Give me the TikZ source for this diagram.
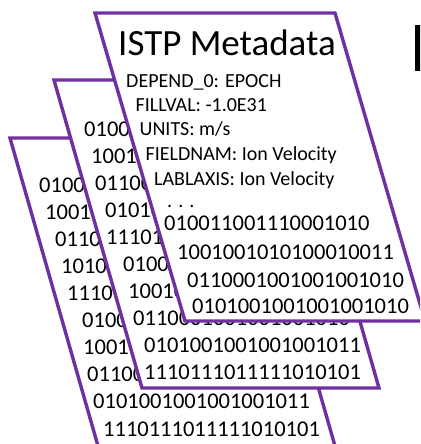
\documentclass[tikz,border=0pt]{standalone}
\usepackage{fontspec}
\setmainfont{Carlito}
\definecolor{cardpurple}{HTML}{7030A0}
\begin{document}
\begin{tikzpicture}[x=1pt,y=-1pt,
  card/.style={draw=cardpurple,fill=white,line width=3.4pt,line join=miter},
  bits/.style={anchor=base west,inner sep=0pt,font=\fontsize{22.5}{22.5}\selectfont},
  meta/.style={anchor=base west,inner sep=0pt,font=\fontsize{20}{20}\selectfont},
  title/.style={anchor=base west,inner sep=0pt,font=\fontsize{37}{37}\selectfont}]
\useasboundingbox (0,0) rectangle (420,444);
\begin{scope}
\clip (0,0) rectangle (420,444);
% back card
\draw[card] (10,138) -- (247,138) -- (335,446) -- (98,446) -- cycle;
\node[bits] (b1) at (39,192) {01001};
\node[bits] (b2) at (45,219) {100100};
\node[bits] (b3) at (55,246) {01100};
\node[bits] (b4) at (61,273) {101001};
\node[bits] (b5) at (67,300) {111011};
\node[bits] (b6) at (82,327) {01001};
\node[bits] (b7) at (83,354) {100100};
\node[bits] (b8) at (87,381) {01100};
\node[bits] (b9) at (93,408) {0101001001001001011};
\node[bits] (b10) at (103,436) {1110111011111010101};
% middle card
\draw[card] (54,80) -- (291,80) -- (379,388) -- (142,388) -- cycle;
\node[bits] (m1) at (84,136) {01001};
\node[bits] (m2) at (91,163) {10010};
\node[bits] (m3) at (95,190) {011000};
\node[bits] (m4) at (105,217) {010100};
\node[bits] (m5) at (106,244) {111011};
\node[bits] (m6) at (123,271) {01001};
\node[bits] (m7) at (128,298) {100100};
\node[bits] (m8) at (133,325) {0110001001001001010};
\node[bits] (m9) at (144,352) {0101001001001001011};
\node[bits] (m10) at (144,379) {1110111011111010101};
% front card
\draw[card] (95,13) -- (335,13) -- (425,321) -- (185,321) -- cycle;
\node[title] (t) at (118,56) {ISTP Metadata};
\node[meta] (d1) at (126,87) {DEPEND\_0: EPOCH};
\node[meta] (d2) at (135.5,111) {FILLVAL: -1.0E31};
\node[meta] (d3) at (139.5,135) {UNITS: m/s};
\node[meta] (d4) at (145.5,160) {FIELDNAM: Ion Velocity};
\node[meta] (d5) at (154,185) {LABLAXIS: Ion Velocity};
\node[meta] (d6) at (167,207) {. . .};
\node[bits] (f1) at (164,230) {010011001110001010};
\node[bits] (f2) at (177,259) {1001001010100010011};
\node[bits] (f3) at (187,287) {0110001001001001010};
\node[bits] (f4) at (192,313) {0101001001001001010};
% cut-off black mark at the right
\fill[black] (414.5,25) rectangle (421,71);
\end{scope}
\end{tikzpicture}
\end{document}
